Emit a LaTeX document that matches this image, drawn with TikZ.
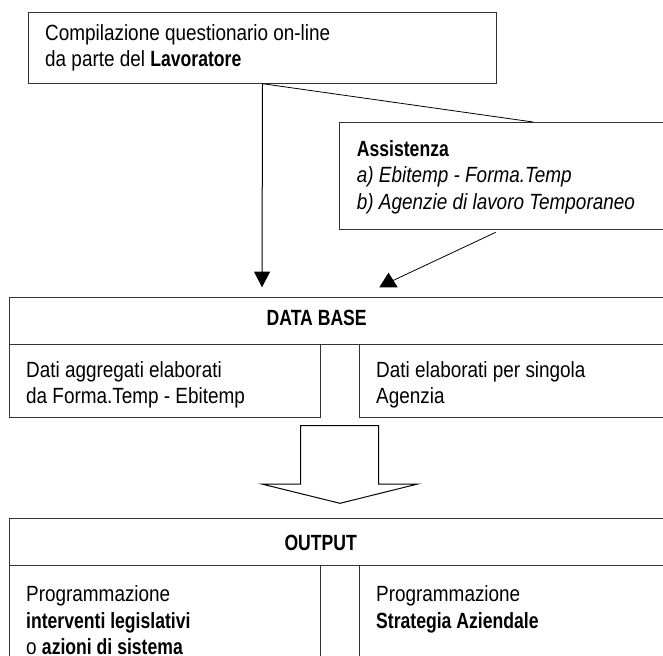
\documentclass[tikz,border=0pt]{standalone}
\usepackage{fontspec}
\setmainfont[FakeStretch=0.86,BoldFeatures={FakeStretch=0.8}]{Liberation Sans}
\usetikzlibrary{arrows.meta}

\begin{document}
\begin{tikzpicture}[x=1pt, y=-1pt,
    cell/.style={draw=black!80, line width=1pt, anchor=north west, inner sep=0pt},
    txt/.style={anchor=north west, align=left, inner sep=0pt, font=\fontsize{22}{26.5}\selectfont},
    head/.style={inner sep=0pt, font=\fontsize{22}{26.5}\selectfont\bfseries}]
  \clip (0,0) rectangle (663,655);

  \node[cell, minimum width=467.4pt, minimum height=70.4pt] (lav) at (28.3,12.3) {};
  \node[cell, minimum width=360pt, minimum height=107.3pt] (assist) at (339.3,122) {};
  \node[cell, minimum width=690pt, minimum height=47.6pt] (dbhead) at (9,296.7) {};
  \node[cell, minimum width=311pt, minimum height=72.4pt] (dbleft) at (9,344.3) {};
  \node[cell, minimum width=340pt, minimum height=72.4pt] (dbright) at (359.3,344.3) {};
  \node[cell, minimum width=690pt, minimum height=47.3pt] (outhead) at (9,517.7) {};
  \node[cell, minimum width=311pt, minimum height=120pt] (outleft) at (9,565) {};
  \node[cell, minimum width=340pt, minimum height=120pt] (outright) at (359.3,565) {};

  \node[txt] (lavtxt) at (45,24.3) {Compilazione questionario on-line\\da parte del \textbf{Lavoratore}};
  \node[txt] (asstxt) at (356.7,140) {\textbf{Assistenza}\\\textit{a) Ebitemp - Forma.Temp}\\\textit{b) Agenzie di lavoro Temporaneo}};
  \node[head] (dbtxt) at (316.7,318.3) {DATA BASE};
  \node[txt] (dbltxt) at (26,361) {Dati aggregati elaborati\\da Forma.Temp - Ebitemp};
  \node[txt] (dbrtxt) at (376,361) {Dati elaborati per singola\\Agenzia};
  \node[head] (outtxt) at (320.7,542.7) {OUTPUT};
  \node[txt] (outltxt) at (26,585.5) {Programmazione\\\textbf{interventi legislativi}\\o \textbf{azioni di sistema}};
  \node[txt] (outrtxt) at (376,585.5) {Programmazione\\\textbf{Strategia Aziendale}};

  \coordinate (dbin) at (262,287.3);
  \coordinate (assin) at (533,122);
  \coordinate (assout) at (495.7,232.3);
  \coordinate (dbin2) at (392,281);

  \draw[line width=1pt, -{Triangle[width=16pt,length=15.7pt]}] (lav.south) -- (dbin);
  \draw[line width=0.8pt] (lav.south) -- (assin);
  \draw[line width=0.8pt] (assout) -- (dbin2);
  \fill[black] (379.3,287.3) -- (388.5,272.7) -- (397.7,287.3) -- cycle;

  \draw[line width=1pt] (300.7,425.7) -- (300.7,484) -- (261.7,484) -- (340,503.3)
    -- (417.7,484) -- (378.7,484) -- (378.7,425.7) -- cycle;
\end{tikzpicture}
\end{document}
